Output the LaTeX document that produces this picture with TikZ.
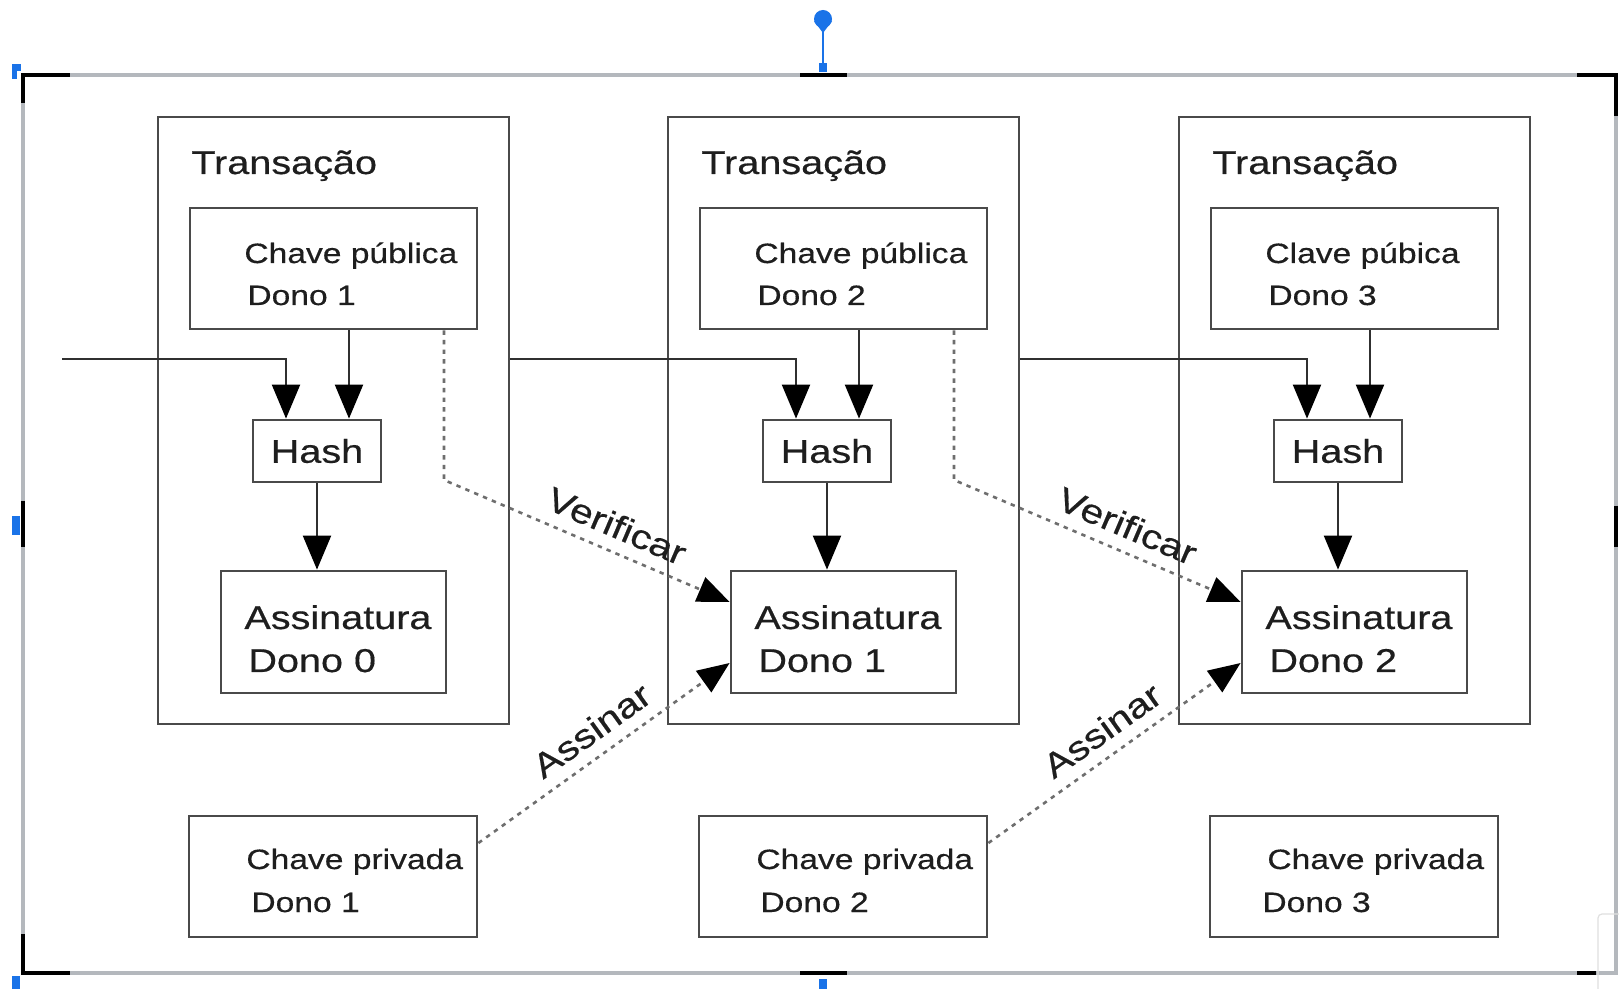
\documentclass[tikz,border=0pt]{standalone}
\usepackage{fontspec}
\setmainfont[FakeStretch=1.2,FakeBold=0.45]{Liberation Sans}
\usetikzlibrary{arrows.meta,fit,calc}
\definecolor{ln}{HTML}{4A4A4A}
\definecolor{cn}{HTML}{303030}
\definecolor{txt}{HTML}{1E1E1E}
\definecolor{framegrey}{HTML}{B4B8BD}
\definecolor{handle}{HTML}{1A73E8}
\definecolor{dotc}{HTML}{6E6E6E}
\begin{document}
\begin{tikzpicture}[x=0.5pt,y=-0.5pt,
  box/.style={draw=ln, line width=1.4pt, inner sep=0pt},
  lbl/.style={anchor=base west, inner sep=0pt, text=txt},
  big/.style={font=\fontsize{16.5}{18}\selectfont},
  small/.style={font=\fontsize{14}{16}\selectfont},
  arr/.style={draw=cn, line width=1.1pt, -{Triangle[length=17pt,width=14pt,color=black]}},
  dotarr/.style={draw=dotc, line width=1.3pt, dash pattern=on 2.2pt off 2.6pt, -{Triangle[length=16pt,width=13pt,color=black]}},
  edgelbl/.style={sloped, above=4pt, inner sep=2pt, text=txt, font=\fontsize{17}{19}\selectfont},
  greyline/.style={draw=framegrey, line width=2pt},
  blackbar/.style={draw=black, line width=2pt}]
\useasboundingbox (0,0) rectangle (1619,989);
\fill[white] (0,0) rectangle (1619,989);

% editor frame and handles
\draw[greyline] (23,75) rectangle (1616,973);
\draw[blackbar] (23,103) -- (23,75) -- (70,75);
\draw[blackbar] (1577,75) -- (1616,75) -- (1616,116);
\draw[blackbar] (23,934) -- (23,973) -- (70,973);
\draw[blackbar] (1577,973) -- (1596,973);
\draw[blackbar] (800,75) -- (847,75);
\draw[blackbar] (800,973) -- (847,973);
\draw[blackbar] (23,501) -- (23,547);
\draw[blackbar] (1616,506) -- (1616,547);
\draw[draw=black!12, line width=0.6pt, rounded corners=2pt] (1598,914) rectangle (1625,995);
\fill[handle] (823,19) circle (9);
\fill[handle] (814,21) -- (832,21) -- (823,33) -- cycle;
\draw[handle, line width=1pt] (823,25) -- (823,70);
\fill[handle] (819,63) rectangle (827,72);
\fill[handle] (12,64) rectangle (21,71);
\fill[handle] (12,64) rectangle (17,79);
\fill[handle] (12,516) rectangle (20,535);
\fill[handle] (12,976) rectangle (20,989);
\fill[handle] (819,979) rectangle (827,989);

% transactions
\foreach \i/\L/\pk/\pd in {1/158/{Chave pública}/93, 2/668/{Chave pública}/92, 3/1179/{Clave púbica}/83} {
  \pgfmathtruncatemacro\k{\i-1}
  \node[box, fit={(\L,117) (\L+351,724)}] (t\i) {};
  \node[lbl, big] (tt\i) at (\L+33,174) {Transação};
  \node[box, fit={(\L+32,208) (\L+319,329)}] (pub\i) {};
  \node[lbl, small] (pubA\i) at (\L+86,263) {\pk};
  \node[lbl, small] (pubB\i) at (\L+89,305) {Dono \i};
  \node[box, fit={(\L+95,420) (\L+223,482)}] (hash\i) {};
  \node[big, inner sep=0pt, text=txt] (hashT\i) at (hash\i.center) {Hash};
  \node[box, fit={(\L+63,571) (\L+288,693)}] (assin\i) {};
  \node[lbl, big] (assA\i) at (\L+86,629) {Assinatura};
  \node[lbl, big] (assB\i) at (\L+90,672) {Dono \k};
  \node[box, fit={(\L+31,816) (\L+319,937)}] (priv\i) {};
  \node[lbl, small] (privA\i) at (\L+88,869) {Chave privada};
  \node[lbl, small] (privB\i) at (\L+\pd,912) {Dono \i};
  \coordinate (hl\i) at ([xshift=-15.5pt]hash\i.north);
  \coordinate (hr\i) at ([xshift=16pt]hash\i.north);
  \draw[arr] (hr\i |- pub\i.south) -- (hr\i);
  \draw[arr] (hash\i.south) -- (hash\i.south |- assin\i.north);
}

% chain of hashes
\coordinate (in0) at (62,359);
\draw[arr] (in0) -| (hl1);
\draw[arr] (t1.east |- in0) -| (hl2);
\draw[arr] (t2.east |- in0) -| (hl3);

% verify / sign
\foreach \i/\L in {1/158, 2/668} {
  \pgfmathtruncatemacro\j{\i+1}
  \coordinate (vs\i) at ([xshift=55.25pt]pub\i.south);
  \coordinate (vc\i) at (\L+286,480);
  \draw[dotarr] (vs\i) -- (vc\i) -- node[edgelbl, pos=0.57] (ver\i) {Verificar} ([yshift=15pt]assin\j.west);
  \draw[dotarr] ([yshift=16.75pt]priv\i.east) -- node[edgelbl, pos=0.51] (sig\i) {Assinar} ([yshift=-15.5pt]assin\j.west);
}
\end{tikzpicture}
\end{document}
